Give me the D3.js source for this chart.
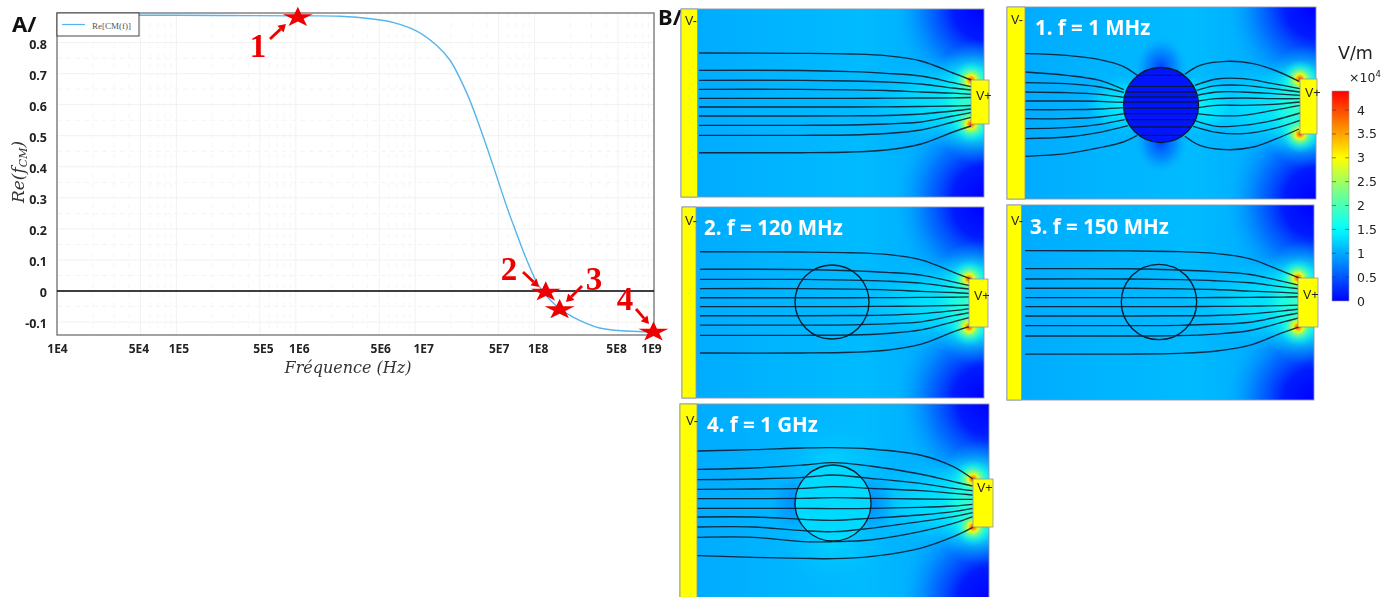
<!DOCTYPE html>
<html><head><meta charset="utf-8">
<style>
html,body{margin:0;padding:0;background:#fff;overflow:hidden}
svg{display:block;filter:blur(0.35px)}
text{font-family:"Noto Sans",sans-serif}
</style>
<script src="https://cdn.jsdelivr.net/npm/d3@7/dist/d3.min.js"></script>
</head><body><svg id="c" width="1392" height="597"></svg>
<script>
// ---------- chart A data ----------
const freqHz = [1e4,1e5,1e6,2.34e6,4.4e6,6.5e6,1.03e7,1.5e7,1.95e7,2.7e7,3.5e7,4.5e7,5.9e7,6.9e7,8.6e7,1.1e8,1.54e8,2.1e8,3.5e8,5.9e8,1e9];
const reCM   = [.888,.888,.886,.885,.876,.865,.837,.792,.744,.638,.525,.403,.267,.196,.10,.013,-.05,-.084,-.119,-.129,-.132];
const yTicks = [-.1,0,.1,.2,.3,.4,.5,.6,.7,.8];
const yTickLabels = ["-0.1","0","0.1","0.2","0.3","0.4","0.5","0.6","0.7","0.8"];
const xTicks = [1e4,5e4,1e5,5e5,1e6,5e6,1e7,5e7,1e8,5e8,1e9];
const xTickLabels = ["1E4","5E4","1E5","5E5","1E6","5E6","1E7","5E7","1E8","5E8","1E9"];
const xTickNudge = [0,-2,2,3,3,1,8,0,3,-2,-3];
const starFreq  = [1.04e6,1.24e8,1.62e8,9.9e8];
const starValue = [.881,-.003,-.06,-.132];
const starNames = ["1","2","3","4"];

// ---------- chart B data ----------
const colorbarTicks = [0,.5,1,1.5,2,2.5,3,3.5,4];
const jetValues = [0,.75,1.5,2.25,3,3.7,4.4];
const jetColors = ["#0000ff","#0080ff","#00ffff","#70ff90","#ffff00","#ff8000","#ff0000"];
const panelTitles = ["","1. f = 1 MHz","2. f = 120 MHz","3. f = 150 MHz","4. f = 1 GHz"];

// field lines without particle influence (panels empty, 2, 3)
const uniformX = [18,120,170,205,240,272,290];
const uniformLines = [
 [44,44.3,45,46.7,52,64,71],
 [61.3,61.5,62.7,64.3,67,73.7,77.7],
 [71.3,71.3,72,73,75,79,81],
 [80.3,80.3,80.8,81.5,83,84.2,85.3],
 [89.3,89.3,89.3,89.2,89,88.8,88.5],
 [98,98,98,97.8,97.5,97,96.5],
 [107,107,106.8,106.5,105,102,100],
 [116.3,116.3,116,115,113,107,103.7],
 [126.3,126.3,126,124.5,121,113,108.3],
 [143.7,143.7,143,141,135,123,117]];
// panel 1 (1 MHz): lines left and right of the particle, and inside it
const mhzLeft = [
 [[77,160],[200,165],[300,178],[370,198],[412,225]],
 [[77,215],[200,225],[300,240],[372,268]],
 [[77,247],[200,250],[300,260],[372,276]],
 [[77,275],[200,277],[300,282],[372,291]],
 [[77,302],[200,302],[300,303],[372,306]],
 [[77,328],[200,328],[300,326],[372,322]],
 [[77,355],[200,355],[300,350],[372,340]],
 [[77,385],[200,382],[300,372],[375,358]],
 [[77,415],[200,410],[300,396],[385,376]],
 [[77,468],[200,460],[300,442],[370,425],[412,405]]];
const mhzRight = [
 [[555,222],[600,195],[680,183],[760,190],[830,212],[897,243]],
 [[585,255],[650,236],[730,235],[820,250],[900,265]],
 [[590,270],[650,256],[730,255],[820,265],[900,275]],
 [[592,285],[650,275],[730,275],[820,280],[900,285]],
 [[595,302],[650,295],[730,293],[820,295],[900,295]],
 [[595,322],[650,315],[730,315],[820,312],[900,305]],
 [[592,340],[650,346],[730,345],[820,330],[900,315]],
 [[585,361],[650,378],[730,375],[820,360],[900,338]],
 [[580,378],[650,396],[730,400],[820,385],[900,360]],
 [[555,408],[600,435],[680,448],[760,440],[830,415],[897,386]]];
const mhzInside = [225,258,275,290,305,323,340,358,380,405];
// panel 4 (1 GHz)
const ghzX = [82,250,400,490,600,750,850,908];
const ghzLines = [
 [153,149,144,143,147,165,200,237],
 [208,204,195,188,198,222,245,258],
 [239,237,232,225,235,250,265,272],
 [268,267,265,260,265,272,280,285],
 [296,296,295,293,295,297,298,298],
 [325,325,325,326,325,322,318,313],
 [351,351,358,361,355,345,335,325],
 [381,381,392,395,385,365,350,338],
 [412,412,425,425,420,395,370,350],
 [467,472,475,476,470,445,410,382]];

// ---------- layout (pixels) ----------
const plot = {l:57,r:654,t:13,b:335};
const panels = [
 {x:681,y:9,w:303,h:188,bar:697.5,box:[971,989,80,124],c:null,kind:"none",tx:0,ty:0,vm:[4,16],vp:[5,20]},
 {x:1007,y:7,w:309,h:192,bar:1025,box:[1300,1317,79,134],c:[1161,105,37.5],kind:"mhz",tx:1035,ty:35,dom:[22,948,20,597],vm:[4,17],vp:[5,18]},
 {x:682,y:207,w:302,h:191,bar:696,box:[969,988,279,327],c:[832,302,37],kind:"plain",tx:704,ty:235,vm:[3,18],vp:[5,21]},
 {x:1007,y:205,w:307,h:195,bar:1021.5,box:[1298,1318,278,327],c:[1159,302,37.7],kind:"plain",tx:1030,ty:234,vm:[4,20],vp:[5,21]},
 {x:680,y:404,w:309,h:195,bar:697,box:[973,993,479,527],c:[833,503,38],kind:"ghz",tx:707,ty:432,dom:[30,957,12,597],vm:[6,21],vp:[4,13]}];

const svg = d3.select("#c");
const defs = svg.append("defs");
const jet = d3.scaleLinear().domain(jetValues).range(jetColors).clamp(true);

// ---------- A: plot ----------
const x = d3.scaleLog().domain([1e4,1e9]).range([plot.l,plot.r]);
const y = d3.scaleLinear().domain([(291-335)/310.5,(291-13)/310.5]).range([plot.b,plot.t]);
const gridG = svg.append("g");
d3.range(4,9).forEach(k=>d3.range(1,10).forEach(m=>{
  const f=m*Math.pow(10,k), major=(m===1||m===5);
  gridG.append("line").attr("x1",x(f)).attr("x2",x(f)).attr("y1",plot.t).attr("y2",plot.b)
    .attr("stroke",major?"#f2f2f2":"#f6f6f6").attr("stroke-width",1).attr("stroke-dasharray",major?null:"5 5");
}));
d3.range(-.1,.85,.05).forEach((v,i)=>{
  gridG.append("line").attr("x1",plot.l).attr("x2",plot.r).attr("y1",y(v)).attr("y2",y(v))
    .attr("stroke",i%2===0?"#f1f1f1":"#f4f4f4").attr("stroke-dasharray",i%2===0?null:"5 4");
});
svg.append("rect").attr("x",plot.l).attr("y",plot.t).attr("width",plot.r-plot.l).attr("height",plot.b-plot.t)
  .attr("fill","none").attr("stroke","#7b7b7b").attr("stroke-width",1.4);
svg.append("line").attr("x1",x(1e4)).attr("x2",x(1e9)).attr("y1",y(0)).attr("y2",y(0)).attr("stroke","#000").attr("stroke-width",1.7);
svg.append("path").attr("d",d3.line().x((d,i)=>x(freqHz[i])).y(d=>y(d)).curve(d3.curveCatmullRom.alpha(.5))(reCM))
  .attr("fill","none").attr("stroke","#56b4ee").attr("stroke-width",1.4);

const ay = svg.append("g").attr("transform",`translate(${plot.l},0)`).call(d3.axisLeft(y).tickValues(yTicks).tickSize(0).tickFormat((d,i)=>yTickLabels[i]));
ay.select(".domain").remove();
ay.selectAll("text").attr("x",-10).attr("dy","0.45em").style("font-family",'"Noto Sans",sans-serif').style("font-size","12.5px").style("font-weight",700).attr("fill","#222");
const ax = svg.append("g").attr("transform",`translate(0,${plot.b})`).call(d3.axisBottom(x).tickValues(xTicks).tickSize(0).tickFormat((d,i)=>xTickLabels[i]));
ax.select(".domain").remove();
ax.selectAll("text").attr("x",(d,i)=>xTickNudge[i]).attr("y",9).style("font-family",'"Noto Sans",sans-serif').style("font-size","12px").style("font-weight",700).attr("fill","#222");

// legend
svg.append("rect").attr("x",plot.l).attr("y",plot.t).attr("width",82).attr("height",23).attr("fill","#fff").attr("stroke","#333").attr("stroke-width",.9);
svg.append("line").attr("x1",62).attr("x2",85).attr("y1",24.5).attr("y2",24.5).attr("stroke","#56b4ee").attr("stroke-width",1.2);
svg.append("text").attr("x",92).attr("y",29).text("Re[CM(f)]").style("font-family",'"Liberation Serif",serif').style("font-size","9px").attr("fill","#555");

// axis titles
const serifI = '"DejaVu Serif","Liberation Serif",serif';
const yt = svg.append("text").attr("transform","translate(24,203) rotate(-90)").style("font-family",serifI).style("font-style","italic").style("font-size","17px").attr("fill","#333");
yt.append("tspan").text("Re(f");
yt.append("tspan").attr("dy",3).style("font-size","11px").text("CM");
yt.append("tspan").attr("dy",-3).text(")");
svg.append("text").attr("x",348).attr("y",373).attr("text-anchor","middle").style("font-family",serifI).style("font-style","italic").style("font-size","16px").attr("fill","#333").text("Fréquence (Hz)");

// panel letters
svg.append("text").attr("x",12).attr("y",32).text("A/").style("font-size","22px").style("font-weight",700).attr("fill","#111");
svg.append("text").attr("x",658).attr("y",25).text("B/").style("font-size","22px").style("font-weight",700).attr("fill","#111");

// ---------- B: gradients ----------
function radial(id,stops){
  const g=defs.append("radialGradient").attr("id",id);
  stops.forEach(s=>g.append("stop").attr("offset",s[0]).attr("stop-color",jet(s[1])).attr("stop-opacity",s[2]));
}
const base=defs.append("linearGradient").attr("id","base");
[[0,1.0],[.3,1.06],[.6,1.1],[.8,1.02],[1,.95]].forEach(s=>base.append("stop").attr("offset",s[0]).attr("stop-color",jet(s[1])));
radial("corner",[[0,0,1],[.35,.12,.95],[.65,.45,.6],[1,.9,0]]);
radial("tip",[[0,4.2,1],[.13,3.5,1],[.26,2.9,.95],[.46,2.3,.75],[.72,1.7,.4],[1,1.4,0]]);
radial("halo",[[0,2.0,.95],[.5,1.7,.7],[1,1.2,0]]);
radial("glow",[[0,1.6,.9],[.5,1.45,.55],[1,1.2,0]]);
radial("shade",[[0,.3,.9],[.55,.55,.5],[1,.9,0]]);
radial("bright",[[0,1.55,.9],[.6,1.4,.5],[1,1.1,0]]);
radial("shade4",[[0,.75,.85],[.6,.85,.45],[1,1,0]]);
radial("lite",[[0,1.35,.6],[1,1.1,0]]);

function ell(g,cx,cy,rx,ry,f){g.append("ellipse").attr("cx",cx).attr("cy",cy).attr("rx",rx).attr("ry",ry).attr("fill",`url(#${f})`);}
const lineColor="#0a1c30";

panels.forEach((p,i)=>{
  defs.append("clipPath").attr("id","clip"+i).append("rect").attr("x",p.x).attr("y",p.y).attr("width",p.w).attr("height",p.h);
  const g=svg.append("g");
  const f=g.append("g").attr("clip-path",`url(#clip${i})`);
  f.append("rect").attr("x",p.x).attr("y",p.y).attr("width",p.w).attr("height",p.h).attr("fill","url(#base)");
  const R=p.x+p.w, B=p.y+p.h, [bx0,bx1,by0,by1]=p.box, bc=(by0+by1)/2;
  ell(f,R,p.y,88,88,"corner"); ell(f,R,B,88,88,"corner");
  ell(f,bx0,bc,120,48,"glow");
  ell(f,bx0+4,bc,44,62,"halo");
  if(p.kind==="mhz"){
    const [cx,cy,r]=p.c;
    ell(f,cx,cy-r,26,30,"shade"); ell(f,cx,cy+r,26,30,"shade");
    ell(f,cx-r,cy,42,32,"bright"); ell(f,cx+r,cy,42,32,"bright");
  }
  if(p.kind==="ghz"){
    const [cx,cy,r]=p.c;
    ell(f,cx,cy-r,62,50,"lite"); ell(f,cx,cy+r,62,50,"lite");
    ell(f,cx-r,cy,26,30,"shade4"); ell(f,cx+r,cy,26,30,"shade4");
  }
  ell(f,bx0,by0,19,19,"tip"); ell(f,bx0,by1,19,19,"tip");
  if(p.c){
    const [cx,cy,r]=p.c;
    f.append("circle").attr("cx",cx).attr("cy",cy).attr("r",r)
      .attr("fill",p.kind==="mhz"?jet(.12):p.kind==="ghz"?jet(1.28):"none");
  }
  // field lines
  let sx,sy;
  if(p.dom){
    sx=d3.scaleLinear().domain([p.dom[0],p.dom[1]]).range([p.x,R]);
    sy=d3.scaleLinear().domain([p.dom[2],p.dom[3]]).range([p.y,p.y+(p.dom[3]-p.dom[2])/3]);
  } else {
    sx=d3.scaleLinear().domain([0,303]).range([p.x,R]);
    sy=d3.scaleLinear().domain([0,188]).range([p.y,B]);
  }
  const ln=d3.line().x(d=>sx(d[0])).y(d=>sy(d[1])).curve(d3.curveCatmullRom.alpha(.5));
  let sets=[];
  if(p.kind==="mhz") sets=mhzLeft.concat(mhzRight);
  else if(p.kind==="ghz") sets=ghzLines.map(l=>l.map((v,k)=>[ghzX[k],v]));
  else sets=uniformLines.map(l=>l.map((v,k)=>[uniformX[k],v]));
  const lg=f.append("g").attr("fill","none").attr("stroke",lineColor).attr("stroke-width",1.35).attr("stroke-opacity",.9);
  sets.forEach(l=>lg.append("path").attr("d",ln(l)));
  if(p.kind==="mhz"){
    const [cx,cy,r]=p.c;
    mhzInside.forEach(v=>{
      const dy=sy(v)-cy, hw=Math.sqrt(Math.max(0,r*r-dy*dy));
      lg.append("line").attr("x1",cx-hw).attr("x2",cx+hw).attr("y1",sy(v)).attr("y2",sy(v));
    });
  }
  if(p.c){
    f.append("circle").attr("cx",p.c[0]).attr("cy",p.c[1]).attr("r",p.c[2]).attr("fill","none").attr("stroke",lineColor).attr("stroke-width",1.35);
  }
  // frame, electrodes
  g.append("rect").attr("x",p.x).attr("y",p.y).attr("width",p.w).attr("height",p.h).attr("fill","none").attr("stroke","#8a94a8").attr("stroke-width",.9);
  g.append("rect").attr("x",p.x).attr("y",p.y).attr("width",p.bar-p.x).attr("height",p.h).attr("fill","#ffff00").attr("stroke","#8a94a8").attr("stroke-width",.8);
  g.append("rect").attr("x",bx0).attr("y",by0).attr("width",bx1-bx0).attr("height",by1-by0).attr("fill","#ffff00").attr("stroke","#8a94a8").attr("stroke-width",.8);
  g.append("text").attr("x",p.x+p.vm[0]).attr("y",p.y+p.vm[1]).text("V-").style("font-family",'"Liberation Sans",sans-serif').style("font-size","12.5px").attr("fill","#222");
  g.append("text").attr("x",bx0+p.vp[0]).attr("y",by0+p.vp[1]).text("V+").style("font-family",'"Liberation Sans",sans-serif').style("font-size","12.5px").attr("fill","#222");
  if(panelTitles[i]) g.append("text").attr("x",p.tx).attr("y",p.ty).text(panelTitles[i]).style("font-size","20.5px").style("font-weight",700).attr("fill","#fff");
});

// ---------- stars and annotations (drawn over the plot) ----------
const starPath=d3.symbol().type(d3.symbolStar).size(280)();
const red="#ee0000";
starFreq.forEach((f,i)=>{
  svg.append("path").attr("d",starPath).attr("transform",`translate(${x(f)},${y(starValue[i])}) scale(1,.67)`).attr("fill",red);
});
const arrowTails=[[270,39],[523,272],[582,286],[636,309]];
const arrowHeads=[[286,24],[539,287],[566,302],[649,324]];
const numberPos=[[258,57],[509,280],[594,290],[625,310]];
arrowTails.forEach((t,i)=>{
  const h=arrowHeads[i],a=Math.atan2(h[1]-t[1],h[0]-t[0]),s=7.5,w=4.5;
  const bx=h[0]-s*Math.cos(a),by=h[1]-s*Math.sin(a);
  svg.append("line").attr("x1",t[0]).attr("y1",t[1]).attr("x2",bx).attr("y2",by).attr("stroke",red).attr("stroke-width",2.8);
  svg.append("path").attr("d",d3.line()([[h[0],h[1]],[bx-w*Math.sin(a),by+w*Math.cos(a)],[bx+w*Math.sin(a),by-w*Math.cos(a)]])+"Z").attr("fill",red);
  svg.append("text").attr("x",numberPos[i][0]).attr("y",numberPos[i][1]).attr("text-anchor","middle").text(starNames[i])
    .style("font-family",'"Liberation Serif",serif').style("font-weight",700).style("font-size","33px").attr("fill",red);
});

// ---------- colour bar ----------
const cb=d3.scaleLinear().domain([0,4.4]).range([301,91]);
const gr=defs.append("linearGradient").attr("id","cbar").attr("x1",0).attr("x2",0).attr("y1",1).attr("y2",0);
d3.range(0,4.41,.2).forEach(v=>gr.append("stop").attr("offset",v/4.4).attr("stop-color",jet(v)));
svg.append("rect").attr("x",1332).attr("y",91).attr("width",17).attr("height",210).attr("fill","url(#cbar)").attr("stroke","#999").attr("stroke-width",.6);
const cg=svg.append("g").attr("transform","translate(1349,0)").call(d3.axisRight(cb).tickValues(colorbarTicks).tickSize(0).tickFormat(d3.format("~g")));
cg.select(".domain").remove();
cg.selectAll("text").attr("x",8).style("font-family",'"DejaVu Sans",sans-serif').style("font-size","12.5px").attr("fill","#222");
colorbarTicks.slice(1).forEach(v=>{
  [[1332,1336],[1345,1349]].forEach(s=>svg.append("line").attr("x1",s[0]).attr("x2",s[1]).attr("y1",cb(v)).attr("y2",cb(v)).attr("stroke","#333").attr("stroke-opacity",.7).attr("stroke-width",.8));
});
svg.append("text").attr("x",1338).attr("y",59).text("V/m").style("font-family",'"DejaVu Sans",sans-serif').style("font-size","17.5px").attr("fill","#222");
const ex=svg.append("text").attr("x",1349).attr("y",82).style("font-family",'"DejaVu Sans",sans-serif').style("font-size","12.5px").attr("fill","#222");
ex.append("tspan").text("×10");
ex.append("tspan").attr("dy",-5).style("font-size","8.5px").text("4");
</script></body></html>
